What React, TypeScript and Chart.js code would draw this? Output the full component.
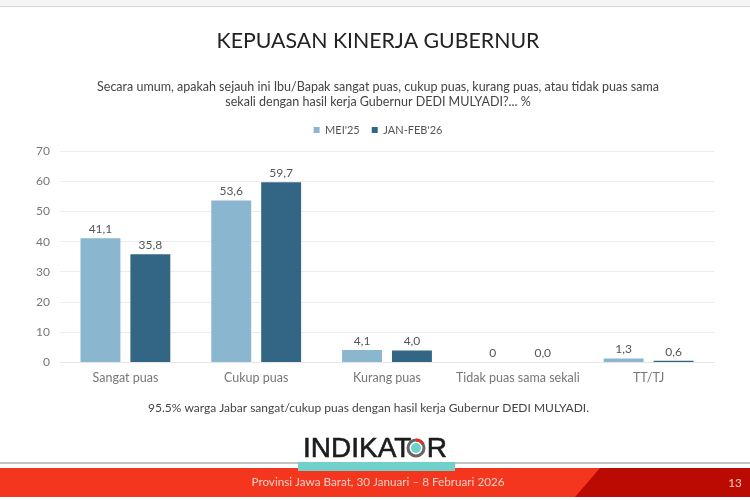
import { useEffect, useRef } from "react";
import { Chart, registerables } from "chart.js";

Chart.register(...registerables);

const FONT = "Lato";

const categories = ["Sangat puas", "Cukup puas", "Kurang puas", "Tidak puas sama sekali", "TT/TJ"];
const mei25 = [41.1, 53.6, 4.1, 0, 1.3];
const janFeb26 = [35.8, 59.7, 4.0, 0.0, 0.6];
const mei25Labels = ["41,1", "53,6", "4,1", "0", "1,3"];
const janFeb26Labels = ["35,8", "59,7", "4,0", "0,0", "0,6"];
const seriesNames = ["MEI'25", "JAN-FEB'26"];
const yTicks = [0, 10, 20, 30, 40, 50, 60, 70];

const titleText = "KEPUASAN KINERJA GUBERNUR";
const questionLines = [
  "Secara umum, apakah sejauh ini Ibu/Bapak sangat puas, cukup puas, kurang puas, atau tidak puas sama",
  "sekali dengan hasil kerja Gubernur DEDI MULYADI?... %",
];
const noteText = "95.5% warga Jabar sangat/cukup puas dengan hasil kerja Gubernur DEDI MULYADI.";
const footerText = "Provinsi Jawa Barat, 30 Januari – 8 Februari 2026";
const pageNumber = "13";

// value labels above the bars
const barLabels = {
  id: "barLabels",
  afterDatasetsDraw(chart: Chart) {
    const ctx = chart.ctx;
    const labels = [mei25Labels, janFeb26Labels];
    ctx.save();
    ctx.font = `12px ${FONT}`;
    ctx.fillStyle = "#555555";
    ctx.textAlign = "center";
    ctx.textBaseline = "bottom";
    chart.data.datasets.forEach((_, i) => {
      chart.getDatasetMeta(i).data.forEach((bar, j) => {
        ctx.fillText(labels[i][j], bar.x, bar.y - 3);
      });
    });
    ctx.restore();
  },
};

// more room under the legend, without moving it
const legendGap = {
  id: "legendGap",
  beforeInit(chart: any) {
    const fit = chart.legend.fit;
    chart.legend.fit = function () {
      fit.call(this);
      this.height += 5.5;
    };
  },
};

// slide furniture around the chart
const slideFrame = {
  id: "slideFrame",
  beforeDraw(chart: Chart) {
    const ctx = chart.ctx;
    ctx.save();
    ctx.fillStyle = "#f5f5f5";
    ctx.fillRect(0, 0, 750, 6);
    ctx.fillStyle = "#d4d4d4";
    ctx.fillRect(0, 6, 750, 1);

    ctx.fillStyle = "#c4c4c4";
    ctx.fillRect(0, 462, 750, 2);
    ctx.fillStyle = "#f4361e";
    ctx.fillRect(0, 468, 750, 29);
    ctx.fillStyle = "#bb0a02";
    ctx.beginPath();
    ctx.moveTo(600, 468);
    ctx.lineTo(750, 468);
    ctx.lineTo(750, 497);
    ctx.lineTo(575, 497);
    ctx.closePath();
    ctx.fill();
    ctx.fillStyle = "#6fd0cc";
    ctx.fillRect(298, 462, 157, 9);

    // logo: letters plus the ring that stands for the O
    ctx.textBaseline = "middle";
    ctx.fillStyle = "#1c1c1c";
    ctx.strokeStyle = "#1c1c1c";
    ctx.lineWidth = 0.6;
    ctx.font = `28px "Liberation Sans"`;
    ctx.textAlign = "left";
    ctx.fillText("INDIKAT", 303, 449);
    ctx.strokeText("INDIKAT", 303, 449);
    ctx.textAlign = "right";
    ctx.fillText("R", 447, 449);
    ctx.strokeText("R", 447, 449);
    ctx.beginPath();
    ctx.arc(416, 448, 8, 0, Math.PI * 2);
    ctx.strokeStyle = "#666666";
    ctx.lineWidth = 3;
    ctx.stroke();
    ctx.beginPath();
    ctx.arc(416, 448, 5, 0, Math.PI * 2);
    ctx.fillStyle = "#6fd0cc";
    ctx.fill();
    ctx.beginPath();
    ctx.arc(416, 448, 8, -Math.PI / 2, -Math.PI / 6);
    ctx.strokeStyle = "#e03020";
    ctx.stroke();

    ctx.textAlign = "center";
    ctx.fillStyle = "#f6cfc4";
    ctx.font = `11.7px ${FONT}`;
    ctx.fillText(footerText, 378, 482);
    ctx.fillText(pageNumber, 735, 483);

    ctx.fillStyle = "#444444";
    ctx.font = `12px ${FONT}`;
    ctx.fillText(noteText, 368.5, 408);
    ctx.restore();
  },
};

export default function App() {
  const canvasRef = useRef<HTMLCanvasElement>(null);

  useEffect(() => {
    if (!canvasRef.current) return;
    const chart = new Chart(canvasRef.current, {
      type: "bar",
      data: {
        labels: categories,
        datasets: [
          { label: seriesNames[0], data: mei25, backgroundColor: "#8ab6d0", yAxisID: "y" },
          { label: seriesNames[1], data: janFeb26, backgroundColor: "#336684", yAxisID: "y" },
        ],
      },
      options: {
        responsive: false,
        animation: false,
        layout: { padding: { top: 28, right: 0, bottom: 114.5, left: 0 } },
        categoryPercentage: 0.763,
        barPercentage: 0.8,
        plugins: {
          title: {
            display: true,
            text: titleText,
            color: "#222222",
            font: { family: FONT, size: 21.3, weight: "normal" },
            padding: { top: 0, bottom: 26 },
          },
          subtitle: {
            display: true,
            text: questionLines,
            color: "#444444",
            font: { family: FONT, size: 12.5, weight: "normal" },
            padding: { top: 0, bottom: 3 },
          },
          legend: {
            position: "top",
            labels: {
              color: "#555555",
              boxWidth: 6,
              boxHeight: 6,
              padding: 12,
              font: { family: FONT, size: 11 },
            },
          },
          tooltip: { enabled: false },
        },
        scales: {
          x: {
            grid: { display: false },
            border: { color: "#e6e6e6" },
            ticks: { color: "#777777", font: { family: FONT, size: 12.5 }, padding: 0 },
          },
          y: {
            min: 0,
            max: 70,
            afterFit: (scale) => {
              scale.width = 60;
            },
            afterBuildTicks: (scale) => {
              scale.ticks = yTicks.map((value) => ({ value }));
            },
            grid: { color: "#ececec", drawTicks: false },
            border: { display: false },
            ticks: { color: "#777777", font: { family: FONT, size: 12 }, padding: 10 },
          },
          // empty axis, only keeps the plot off the right side while the title block stays centred on the slide
          spacer: {
            type: "linear",
            position: "right",
            grid: { display: false },
            border: { display: false },
            ticks: { display: false },
            afterFit: (scale) => {
              scale.width = 42;
            },
          },
        },
      },
      plugins: [legendGap, slideFrame, barLabels],
    });
    return () => {
      chart.destroy();
    };
  }, []);

  // canvas is 6px wider than the page so the centred title block sits at x=378
  return (
    <div style={{ position: "fixed", left: 0, top: 0, width: 750, height: 500, overflow: "hidden", background: "#fff" }}>
      <canvas ref={canvasRef} width={756} height={500}></canvas>
    </div>
  );
}
